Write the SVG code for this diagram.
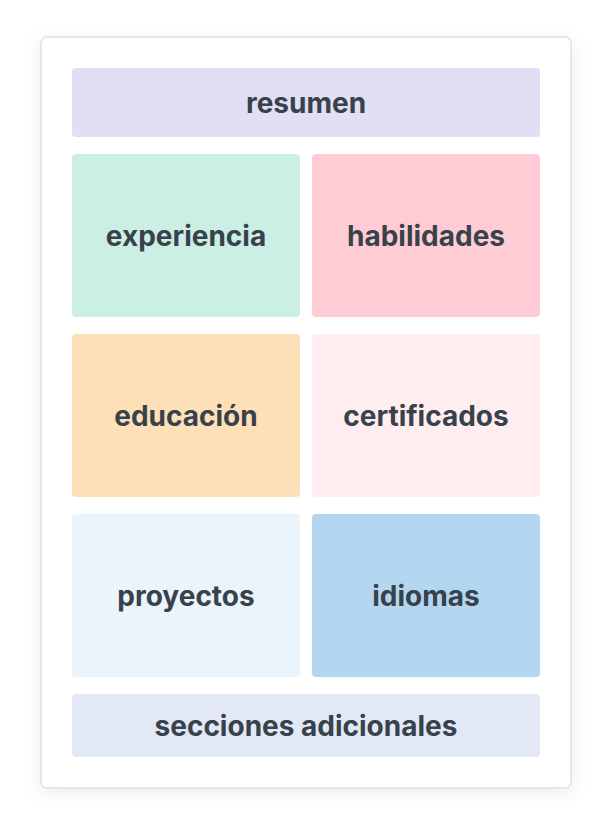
<svg xmlns="http://www.w3.org/2000/svg" width="612" height="834" viewBox="0 0 612 834">
<defs>
<filter id="sh" x="-10%" y="-10%" width="120%" height="120%">
<feDropShadow dx="0" dy="4" stdDeviation="9" flood-color="#000" flood-opacity="0.07"/>
</filter>
<style>
.lbl{font-family:Inter,"Liberation Sans",sans-serif;font-weight:700;font-size:28px;fill:#37424a;text-anchor:middle;dominant-baseline:central}
</style>
</defs>
<rect width="612" height="834" fill="#ffffff"/>
<g id="card">
<rect x="41" y="37" width="530" height="751" rx="6" fill="#ffffff" stroke="#e0e0e0" stroke-width="1.5" filter="url(#sh)"/>
</g>
<g id="resumen"><rect x="72" y="68" width="468" height="69" rx="4" fill="#e2def5"/><text class="lbl" x="306" y="103">resumen</text></g>
<g id="experiencia"><rect x="72" y="154" width="228" height="163" rx="4" fill="#ccefe3"/><text class="lbl" x="186" y="236">experiencia</text></g>
<g id="habilidades"><rect x="312" y="154" width="228" height="163" rx="4" fill="#ffccd5"/><text class="lbl" x="426" y="236">habilidades</text></g>
<g id="educacion"><rect x="72" y="334" width="228" height="163" rx="4" fill="#fee0b8"/><text class="lbl" x="186" y="416">educación</text></g>
<g id="certificados"><rect x="312" y="334" width="228" height="163" rx="4" fill="#ffedf0"/><text class="lbl" x="426" y="416">certificados</text></g>
<g id="proyectos"><rect x="72" y="514" width="228" height="163" rx="4" fill="#ebf3fb"/><text class="lbl" x="186" y="596">proyectos</text></g>
<g id="idiomas"><rect x="312" y="514" width="228" height="163" rx="4" fill="#b3d7f0"/><text class="lbl" x="426" y="596">idiomas</text></g>
<g id="secciones"><rect x="72" y="694" width="468" height="63" rx="4" fill="#e2e8f5"/><text class="lbl" x="306" y="725.5">secciones adicionales</text></g>
<g id="connectors"></g>
</svg>
